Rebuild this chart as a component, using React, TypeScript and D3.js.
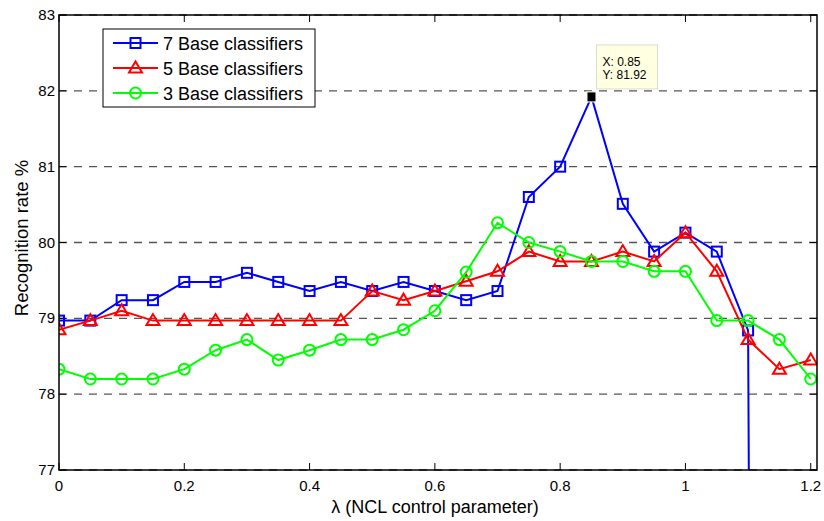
import React from "react";
import * as d3 from "d3";

const lambdas = [0, 0.05, 0.1, 0.15, 0.2, 0.25, 0.3, 0.35, 0.4, 0.45, 0.5, 0.55, 0.6, 0.65, 0.7, 0.75, 0.8, 0.85, 0.9, 0.95, 1.0, 1.05, 1.1, 1.15, 1.2];
const base7 = [78.97, 78.97, 79.24, 79.24, 79.48, 79.48, 79.6, 79.48, 79.36, 79.48, 79.36, 79.48, 79.36, 79.24, 79.36, 80.6, 81.0, 81.92, 80.51, 79.88, 80.13, 79.88, 78.84, 0, 0];
const base5 = [78.85, 78.97, 79.1, 78.97, 78.97, 78.97, 78.97, 78.97, 78.97, 78.97, 79.36, 79.24, 79.36, 79.49, 79.62, 79.88, 79.75, 79.75, 79.88, 79.75, 80.13, 79.62, 78.72, 78.33, 78.45];
const base3 = [78.33, 78.2, 78.2, 78.2, 78.33, 78.58, 78.72, 78.45, 78.58, 78.72, 78.72, 78.85, 79.1, 79.61, 80.26, 80.0, 79.88, 79.75, 79.75, 79.62, 79.62, 78.97, 78.97, 78.72, 78.2];
const seriesNames = ["7 Base classifiers", "5 Base classifiers", "3 Base classifiers"];
const seriesColors = ["#0000ff", "#ff0000", "#00ff00"];
const xTicks = [0, 0.2, 0.4, 0.6, 0.8, 1, 1.2];
const yTicks = [77, 78, 79, 80, 81, 82, 83];
const tipX = 0.85;
const tipY = 81.92;

const W = 824, H = 521;
const L = 59, R = 817, T = 15, B = 470;
const FONT = "'Liberation Sans', Arial, sans-serif";

function Marker({ kind, x, y, color }: { kind: string; x: number; y: number; color: string }) {
  if (kind === "square") return <rect x={x - 5} y={y - 5} width={10} height={10} fill="none" stroke={color} strokeWidth={2} />;
  if (kind === "triangle") {
    const p = `${x},${y - 6.5} ${x - 6.5},${y + 4.5} ${x + 6.5},${y + 4.5}`;
    return <polygon points={p} fill="none" stroke={color} strokeWidth={2} />;
  }
  return <circle cx={x} cy={y} r={5.5} fill="none" stroke={color} strokeWidth={2} />;
}

export default function App() {
  const x = d3.scaleLinear().domain([0, 1.21]).range([L, R]);
  const y = d3.scaleLinear().domain([77, 83]).range([B, T]);
  const all = [base7, base5, base3];
  const kinds = ["square", "triangle", "circle"];
  const line = d3.line<number>().x((_, i) => x(lambdas[i])).y((d) => y(d));
  const tx = x(tipX), ty = y(tipY);

  return (
    <svg width={W} height={H} style={{ position: "absolute", left: 0, top: 0, background: "#fff" }} fontFamily={FONT}>
      <defs>
        <clipPath id="plot"><rect x={L} y={T} width={R - L} height={B - T} /></clipPath>
      </defs>
      <rect x={0} y={0} width={W} height={H} fill="#fff" />
      {yTicks.map((t) => (
        <line key={"g" + t} x1={L} x2={R} y1={y(t)} y2={y(t)} stroke="#555" strokeWidth={1.3} strokeDasharray="8,7" />
      ))}
      {xTicks.map((t) => (
        <g key={"xt" + t}>
          <line x1={x(t)} x2={x(t)} y1={B} y2={B - 7} stroke="#000" />
          <line x1={x(t)} x2={x(t)} y1={T} y2={T + 7} stroke="#000" />
          <text x={x(t)} y={B + 21} fontSize={15} textAnchor="middle">{t}</text>
        </g>
      ))}
      {yTicks.map((t) => (
        <g key={"yt" + t}>
          <line x1={L} x2={L + 7} y1={y(t)} y2={y(t)} stroke="#000" />
          <line x1={R} x2={R - 7} y1={y(t)} y2={y(t)} stroke="#000" />
          <text x={L - 4} y={y(t) + 5} fontSize={15} textAnchor="end">{t}</text>
        </g>
      ))}
      <g clipPath="url(#plot)">
        {all.map((vals, si) => (
          <g key={"s" + si}>
            <path d={line(vals) || ""} fill="none" stroke={seriesColors[si]} strokeWidth={2} />
            {vals.map((v, i) =>
              si === 0 && lambdas[i] === tipX ? null : (
                <Marker key={i} kind={kinds[si]} x={x(lambdas[i])} y={y(v)} color={seriesColors[si]} />
              )
            )}
          </g>
        ))}
      </g>
      <rect x={L} y={T} width={R - L} height={B - T} fill="none" stroke="#000" strokeWidth={1.5} />
      {/* data tip */}
      <rect x={tx - 4.5} y={ty - 5} width={9} height={10} fill="#000" stroke="#ffffe1" strokeWidth={1} />
      <rect x={tx + 5} y={ty - 52} width={61} height={44} fill="#ffffe1" stroke="#dcdccc" strokeWidth={1} />
      <text x={tx + 11} y={ty - 31} fontSize={12}>X: {tipX}</text>
      <text x={tx + 11} y={ty - 18} fontSize={12}>Y: {tipY}</text>
      {/* legend */}
      <rect x={103} y={29} width={212} height={78} fill="#fff" stroke="#000" strokeWidth={1} />
      {seriesNames.map((n, i) => {
        const cy = 43 + i * 25;
        return (
          <g key={"l" + i}>
            <line x1={113} x2={158} y1={cy} y2={cy} stroke={seriesColors[i]} strokeWidth={2} />
            <Marker kind={kinds[i]} x={135.5} y={cy} color={seriesColors[i]} />
            <text x={163} y={cy + 6.5} fontSize={18}>{n}</text>
          </g>
        );
      })}
      <text x={435} y={513} fontSize={18} textAnchor="middle">λ (NCL control parameter)</text>
      <text transform={`translate(28, 238) rotate(-90)`} fontSize={18.5} textAnchor="middle">Recognition rate %</text>
    </svg>
  );
}
